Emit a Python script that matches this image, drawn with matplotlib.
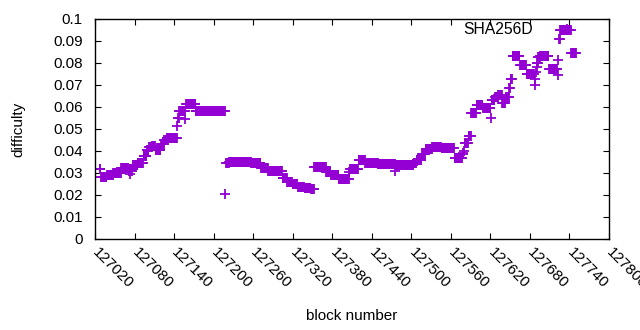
import numpy as np
import matplotlib
matplotlib.use("Agg")
import matplotlib.pyplot as plt
from matplotlib.transforms import ScaledTranslation

plt.rcParams['font.family'] = ['Liberation Sans', 'DejaVu Sans']

# Runs of constant difficulty: first block of each run and its difficulty
run_start = [
    127027, 127029, 127038, 127048, 127060, 127071, 127073, 127074, 127077, 127085,
    127094, 127099, 127102, 127107, 127112, 127120, 127125, 127129, 127145, 127146,
    127148, 127157, 127158, 127173, 127218, 127219, 127224, 127257, 127272, 127283,
    127305, 127312, 127320, 127328, 127338, 127348, 127353, 127371, 127378, 127390,
    127406, 127407, 127420, 127430, 127450, 127476, 127477, 127504, 127508, 127516,
    127522, 127532, 127546, 127566, 127578, 127579, 127580, 127581, 127587, 127591,
    127599, 127609, 127621, 127622, 127627, 127632, 127638, 127643, 127649, 127651,
    127654, 127665, 127675, 127687, 127688, 127689, 127690, 127691, 127693, 127696,
    127709, 127722, 127723, 127724, 127726, 127743,
]
run_value = [
    0.0317, 0.0283, 0.0290, 0.0299, 0.0324, 0.0310, 0.0296, 0.0310, 0.0338, 0.0344,
    0.0377, 0.0405, 0.0417, 0.0423, 0.0405, 0.0430, 0.0450, 0.0459, 0.0514, 0.0549,
    0.0582, 0.0545, 0.0614, 0.0582, 0.0203, 0.0344, 0.0351, 0.0347, 0.0321, 0.0309,
    0.0276, 0.0258, 0.0249, 0.0238, 0.0233, 0.0227, 0.0326, 0.0306, 0.0290, 0.0271,
    0.0305, 0.0320, 0.0359, 0.0347, 0.0341, 0.0310, 0.0336, 0.0347, 0.0360, 0.0386,
    0.0410, 0.0420, 0.0414, 0.0370, 0.0385, 0.0392, 0.0400, 0.0438, 0.0468, 0.0574,
    0.0608, 0.0594, 0.0549, 0.0632, 0.0647, 0.0655, 0.0620, 0.0647, 0.0685, 0.0726,
    0.0832, 0.0791, 0.0749, 0.0700, 0.0726, 0.0758, 0.0780, 0.0801, 0.0826, 0.0833,
    0.0771, 0.0745, 0.0814, 0.0910, 0.0949, 0.0844,
]
last_block = 127750

x_ticks = list(range(127020, 127801, 60))
y_ticks = [0, 0.01, 0.02, 0.03, 0.04, 0.05, 0.06, 0.07, 0.08, 0.09, 0.1]
y_tick_labels = ["0", "0.01", "0.02", "0.03", "0.04", "0.05", "0.06", "0.07", "0.08", "0.09", "0.1"]

starts = np.array(run_start)
ends = np.append(starts[1:], last_block + 1)
blocks = np.concatenate([np.arange(s, e) for s, e in zip(starts, ends)])
values = np.repeat(np.array(run_value), ends - starts)

fig = plt.figure(figsize=(6.4, 3.3), dpi=100)
ax = fig.add_axes([95/640, 1 - 239/330, (609 - 95)/640, (239 - 19)/330])

color = '#9400d3'
ax.plot(blocks, values, linestyle='none', marker='+', markersize=6.6,
        markeredgewidth=1.3, color=color, label='SHA256D')

ax.set_xlim(127020, 127800)
ax.set_ylim(0, 0.1)
ax.set_xticks(x_ticks)
ax.set_xticklabels([str(t) for t in x_ticks], rotation=-45, ha='left', va='center',
                   rotation_mode='anchor', fontsize=11)
off = ScaledTranslation(4/72, 0, fig.dpi_scale_trans)
for lab in ax.get_xticklabels():
    lab.set_transform(lab.get_transform() + off)
ax.set_yticks(y_ticks)
ax.set_yticklabels(y_tick_labels, fontsize=11)
ax.tick_params(direction='in', length=4, width=0.8, top=True, right=True)
ax.tick_params(axis='y', pad=9)
ax.tick_params(axis='x', pad=8)
for s in ax.spines.values():
    s.set_linewidth(1.0)

ax.set_xlabel('block number', fontsize=11, labelpad=13)
ax.set_ylabel('difficulty', fontsize=11, labelpad=20)

leg = ax.legend(loc='upper right', bbox_to_anchor=(0.949, 0.985), frameon=False,
                markerfirst=False, numpoints=1, handlelength=2.0, handletextpad=1.15,
                borderaxespad=0, borderpad=0, fontsize=11.3)

fig.savefig('out.png', dpi=100)
